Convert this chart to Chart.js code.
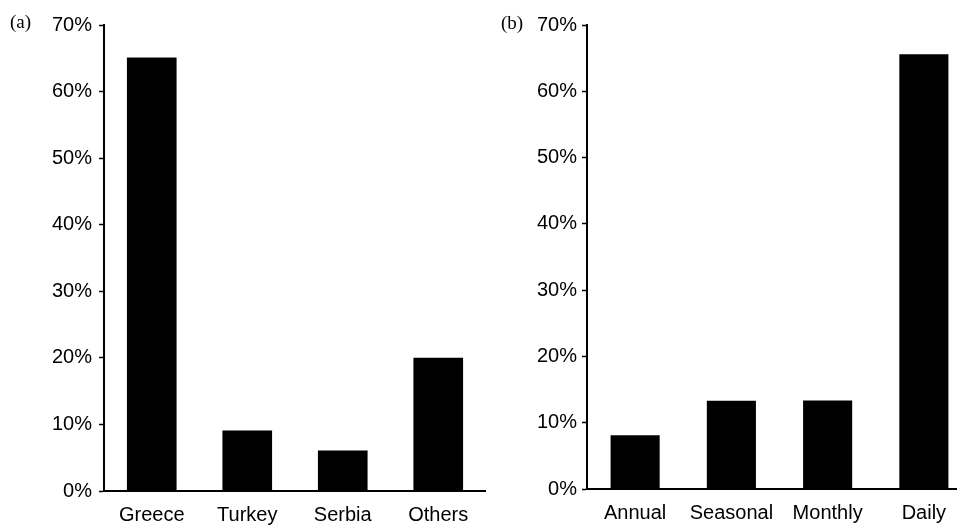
<!DOCTYPE html>
<html>
<head>
<meta charset="utf-8">
<script src="https://cdn.jsdelivr.net/npm/chart.js@4"></script>
<style>
  html, body { margin: 0; padding: 0; background: #fff; overflow: hidden; }
  #wrap { position: relative; width: 957px; height: 525px; overflow: hidden; }
  .panel { position: absolute; top: 0; height: 525px; }
  .tag { position: absolute; font-family: "Liberation Serif", "DejaVu Serif", serif; font-size: 19px; color: #000; }
</style>
</head>
<body>
<div id="wrap">
  <div class="panel" style="left:0;width:486px"><canvas id="chartA"></canvas></div>
  <div class="panel" style="left:480px;width:492px"><canvas id="chartB"></canvas></div>
  <div class="tag" style="left:10px;top:11px">(a)</div>
  <div class="tag" style="left:501px;top:12px">(b)</div>
</div>
<script>
// panel (a): origin
const countries = ["Greece", "Turkey", "Serbia", "Others"];
const countryShare = [65.1, 9.1, 6.1, 20.0];

// panel (b): time scale
const periods = ["Annual", "Seasonal", "Monthly", "Daily"];
const periodShare = [8.1, 13.3, 13.35, 65.6];

// y axis
const yMin = 0;
const yMax = 70;
const yStep = 10;

function makeChart(canvas, labels, values, axisWidth, axisBottom, labelGap, barPct) {
  return new Chart(canvas, {
    type: "bar",
    data: {
      labels: labels,
      datasets: [{
        data: values,
        backgroundColor: "#000",
        borderWidth: 0,
        categoryPercentage: 1,
        barPercentage: barPct
      }]
    },
    options: {
      animation: false,
      responsive: true,
      maintainAspectRatio: false,
      layout: { padding: { top: 25, right: 0, left: 0, bottom: 0 } },
      plugins: { legend: { display: false }, tooltip: { enabled: false } },
      scales: {
        x: {
          grid: { display: true, drawOnChartArea: false, drawTicks: false },
          border: { display: true, color: "#000", width: 2 },
          ticks: {
            color: "#000",
            padding: 12,
            maxRotation: 0,
            font: { family: "Liberation Sans", size: 20 }
          },
          afterFit: (scale) => { scale.height = axisBottom; }
        },
        y: {
          min: yMin,
          max: yMax,
          grid: { display: true, drawOnChartArea: false, color: "#000", tickLength: 5, tickWidth: 1.5 },
          border: { display: true, color: "#000", width: 2 },
          ticks: {
            stepSize: yStep,
            color: "#000",
            padding: labelGap,
            font: { family: "Liberation Sans", size: 20 },
            callback: (v) => v + "%"
          },
          afterFit: (scale) => { scale.width = axisWidth; }
        }
      }
    }
  });
}

makeChart(document.getElementById("chartA"), countries, countryShare, 104, 34, 7, 0.52);
makeChart(document.getElementById("chartB"), periods, periodShare, 107, 36, 5, 0.51);
</script>
</body>
</html>
